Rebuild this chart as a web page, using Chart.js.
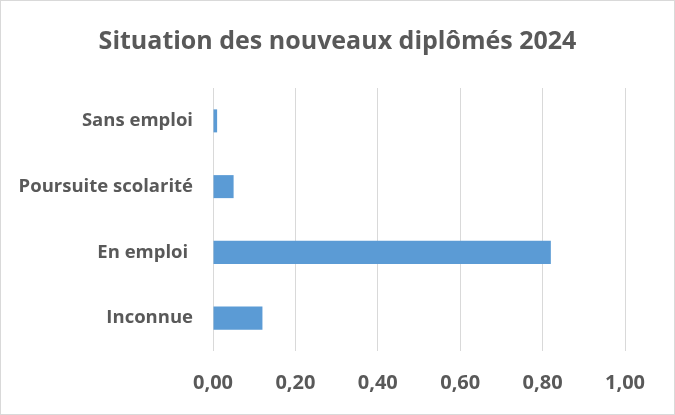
<!DOCTYPE html>
<html>
<head>
<meta charset="utf-8">
<script src="https://cdn.jsdelivr.net/npm/chart.js@4"></script>
<style>
  html, body { margin: 0; padding: 0; background: #fff; }
  #wrap { width: 675px; height: 415px; position: relative; }
</style>
</head>
<body>
<div id="wrap"><canvas id="chart" width="675" height="415"></canvas></div>
<script>
// data
const categories = ['Sans emploi', 'Poursuite scolarité', 'En emploi ', 'Inconnue'];
const values = [0.01, 0.05, 0.82, 0.12];
const xTicks = [0, 0.2, 0.4, 0.6, 0.8, 1.0];

const textColor = '#595959';
const fontFamily = '"Open Sans", "Liberation Sans", Arial, sans-serif';

// white background + thin grey frame round the whole chart
const frame = {
  id: 'frame',
  beforeDraw(chart) {
    const ctx = chart.ctx;
    ctx.save();
    ctx.fillStyle = '#fff';
    ctx.fillRect(0, 0, chart.width, chart.height);
    ctx.strokeStyle = '#d9d9d9';
    ctx.lineWidth = 1;
    ctx.strokeRect(0.5, 0.5, chart.width - 1, chart.height - 1);
    ctx.restore();
  }
};

const ctx = document.getElementById('chart').getContext('2d');
new Chart(ctx, {
  type: 'bar',
  data: {
    labels: categories,
    datasets: [{
      data: values,
      backgroundColor: '#5b9bd5',
      borderWidth: 0,
      categoryPercentage: 1,
      barPercentage: 0.35
    }]
  },
  options: {
    indexAxis: 'y',
    responsive: false,
    animation: false,
    layout: { padding: 0 },
    plugins: {
      legend: { display: false },
      tooltip: { enabled: false },
      title: {
        display: true,
        text: 'Situation des nouveaux diplômés 2024',
        color: textColor,
        font: { family: fontFamily, size: 25, weight: 'bold' },
        padding: { top: 27, bottom: 31 }
      }
    },
    scales: {
      x: {
        min: 0,
        max: 1,
        afterBuildTicks(axis) {
          axis.ticks = xTicks.map(v => ({ value: v }));
        },
        afterFit(axis) { axis.height = 64; },
        grid: { color: '#d9d9d9', lineWidth: 1, drawTicks: false },
        border: { display: false },
        ticks: {
          padding: 20,
          color: textColor,
          font: { family: fontFamily, size: 20, weight: 'bold' },
          callback: v => v.toFixed(2).replace('.', ',')
        }
      },
      y: {
        afterFit(axis) { axis.width = 213; },
        grid: { display: false, drawTicks: false },
        border: { display: false },
        ticks: {
          padding: 20,
          color: textColor,
          font: { family: fontFamily, size: 18.5, weight: 'bold' }
        }
      },
      // empty right-hand strip so the plot ends at 1,00 while the title stays centred on the page
      yRight: {
        axis: 'y',
        type: 'category',
        position: 'right',
        afterFit(axis) { axis.width = 50; },
        grid: { display: false, drawTicks: false },
        border: { display: false },
        ticks: { display: false }
      }
    }
  },
  plugins: [frame]
});
</script>
</body>
</html>
